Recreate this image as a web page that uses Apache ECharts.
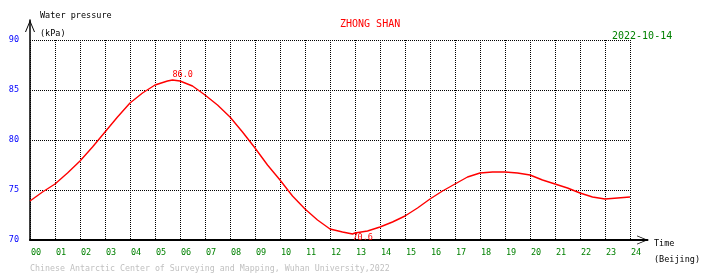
<!DOCTYPE html>
<html>
<head>
<meta charset="utf-8">
<script src="https://cdn.jsdelivr.net/npm/echarts@6/dist/echarts.min.js"></script>
<style>html,body{margin:0;padding:0;background:#fff}#c{width:710px;height:278px}</style>
</head>
<body>
<div id="c"></div>
<script>
// Hours (Beijing time) and water pressure (kPa)
var hours = [0,0.5,1,1.5,2,2.5,3,3.5,4,4.5,5,5.5,5.7,6,6.5,7,7.5,8,8.5,9,9.5,10,10.5,11,11.5,12,12.5,12.9,13,13.5,14,14.5,15,15.5,16,16.5,17,17.5,18,18.5,19,19.5,20,20.5,21,21.5,22,22.5,23,23.5,24];
var pressure = [73.9,74.8,75.6,76.7,77.9,79.3,80.8,82.3,83.7,84.7,85.5,85.9,86.0,85.9,85.4,84.5,83.5,82.3,80.8,79.2,77.5,76.0,74.4,73.1,72.0,71.1,70.8,70.6,70.7,70.9,71.3,71.8,72.4,73.2,74.1,74.9,75.6,76.3,76.7,76.8,76.8,76.7,76.5,76.0,75.6,75.2,74.7,74.3,74.1,74.2,74.3];
var yTicks = [70, 75, 80, 85, 90];
var xTickLabels = ['00','01','02','03','04','05','06','07','08','09','10','11','12','13','14','15','16','17','18','19','20','21','22','23','24'];

var FONT = '"DejaVu Sans Mono", "Liberation Mono", monospace';
var seriesData = hours.map(function (h, i) { return [h, pressure[i]]; });
var chevron = 'path://M0,12 L5,0 L10,12 L9,12 L5,2.2 L1,12 Z';
var dotted = { color: '#000', width: 1, type: [1, 1] };

var chart = echarts.init(document.getElementById('c'), null, { renderer: 'canvas' });
chart.setOption({
  animation: false,
  backgroundColor: '#fff',
  grid: [
    { left: 30, right: 80, top: 40, bottom: 38 },
    { left: 30, right: 62.5, top: 20, bottom: 38 }
  ],
  xAxis: [
    {
      type: 'value', gridIndex: 0, min: 0, max: 24, interval: 1,
      axisLine: { show: false }, axisTick: { show: false },
      splitLine: { show: true, lineStyle: dotted },
      axisLabel: {
        color: '#008000', fontFamily: FONT, fontSize: 8.5, margin: 8,
        align: 'left', padding: [0, 0, 0, 1],
        formatter: function (v) { return xTickLabels[Math.round(v)]; }
      }
    },
    {
      type: 'value', gridIndex: 1, min: 0, max: 24.7,
      axisLine: { show: true, onZero: false, lineStyle: { color: '#000', width: 2 },
        symbol: ['none', chevron], symbolSize: [10, 11], symbolOffset: [0, -5] },
      axisTick: { show: false }, axisLabel: { show: false }, splitLine: { show: false }
    }
  ],
  yAxis: [
    {
      type: 'value', gridIndex: 0, min: yTicks[0], max: yTicks[yTicks.length - 1], interval: 5,
      axisLine: { show: false }, axisTick: { show: false },
      splitLine: { show: true, lineStyle: dotted },
      axisLabel: { color: '#0000ff', fontFamily: FONT, fontSize: 8.5, margin: 11,
        verticalAlign: 'middle', padding: [0, 0, 4, 0] }
    },
    {
      type: 'value', gridIndex: 1, min: 70, max: 92,
      axisLine: { show: true, onZero: false, lineStyle: { color: '#000', width: 1.5 },
        symbol: ['none', chevron], symbolSize: [11, 12], symbolOffset: [0, -6] },
      axisTick: { show: false }, axisLabel: { show: false }, splitLine: { show: false }
    }
  ],
  series: [{
    type: 'line', xAxisIndex: 0, yAxisIndex: 0,
    data: seriesData, showSymbol: false, symbol: 'none',
    lineStyle: { color: '#ff0000', width: 1.4 },
    markPoint: {
      symbol: 'circle', symbolSize: 0,
      label: { show: true, color: '#ff0000', fontFamily: FONT, fontSize: 8.5,
        align: 'left', verticalAlign: 'middle',
        formatter: function (p) { return Number(p.value).toFixed(1); } },
      data: [
        { type: 'max', label: { position: [0, -5] } },
        { type: 'min', label: { position: [0, 4] } }
      ]
    }
  }],
  graphic: [
    { type: 'text', left: 40, top: 11, style: { text: 'Water pressure', fill: '#000', font: '8.5px ' + FONT } },
    { type: 'text', left: 40, top: 29, style: { text: '(kPa)', fill: '#000', font: '8.5px ' + FONT } },
    { type: 'text', left: 340, top: 19, style: { text: 'ZHONG SHAN', fill: '#ff0000', font: '10px ' + FONT } },
    { type: 'text', left: 612, top: 31, style: { text: '2022-10-14', fill: '#008000', font: '10px ' + FONT } },
    { type: 'text', left: 654, top: 239, style: { text: 'Time', fill: '#000', font: '8.5px ' + FONT } },
    { type: 'text', left: 654, top: 255, style: { text: '(Beijing)', fill: '#000', font: '8.5px ' + FONT } },
    { type: 'text', left: 30, top: 265, style: { text: 'Chinese Antarctic Center of Surveying and Mapping, Wuhan University,2022', fill: '#c0c0c0', font: '8.3px ' + FONT } }
  ]
});
</script>
</body>
</html>
